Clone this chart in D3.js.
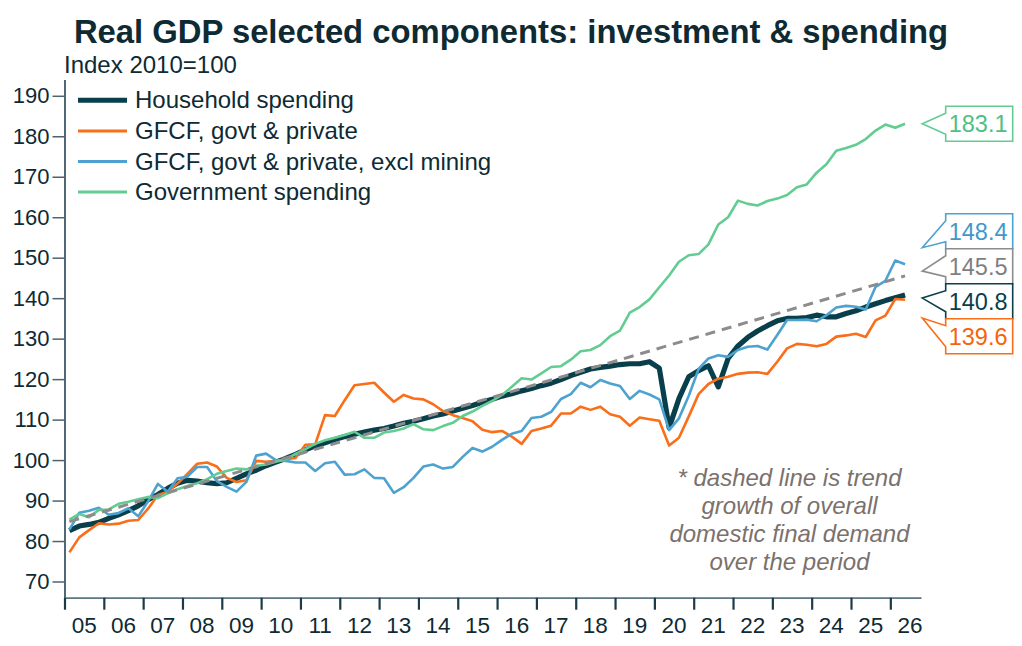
<!DOCTYPE html>
<html>
<head>
<meta charset="utf-8">
<script src="https://cdn.jsdelivr.net/npm/d3@7"></script>
<style>
  body { margin: 0; background: #fff; }
  text { font-family: "Liberation Sans", Arial, sans-serif; }
</style>
</head>
<body>
<div id="chart"></div>
<script>
// Quarterly index values, 2005 Q1 onwards (86 quarters)
const household = [82.6, 83.7, 84.1, 84.6, 85.6, 86.5, 87.5, 88.7, 90.2, 91.5, 93.0, 94.3, 95.0, 94.8, 94.4, 94.2,
  94.4, 95.5, 96.6, 97.5, 98.6, 99.5, 100.4, 101.4, 102.5, 103.5, 104.3, 105.1, 105.8, 106.4, 106.9, 107.4,
  107.8, 108.4, 109.1, 109.6, 110.2, 110.9, 111.4, 112.1, 112.8, 113.5, 114.3, 115.0, 115.8, 116.4, 117.1, 117.7,
  118.4, 119.0, 119.9, 120.9, 121.7, 122.5, 122.9, 123.2, 123.6, 123.8, 123.8, 124.3, 122.7, 108.0, 115.2, 120.6,
  122.1, 123.3, 118.1, 125.1, 128.2, 130.3, 131.9, 133.2, 134.4, 135.0, 135.0, 135.2, 135.8, 135.4, 135.4, 136.2,
  136.9, 137.8, 138.6, 139.4, 140.1, 140.8];

const gfcf = [77.2, 80.9, 82.7, 84.4, 84.1, 84.3, 85.0, 85.2, 88.0, 91.4, 92.2, 94.2, 96.6, 99.1, 99.4, 98.4,
  95.6, 94.6, 95.0, 99.8, 99.6, 99.8, 100.2, 100.5, 103.8, 103.9, 111.1, 110.9, 114.8, 118.5, 118.8, 119.1,
  116.7, 114.4, 116.1, 115.2, 115.0, 113.8, 112.1, 111.1, 110.4, 109.6, 107.5, 106.9, 107.2, 105.8, 104.0, 107.2,
  107.8, 108.5, 111.5, 111.5, 113.2, 112.4, 113.2, 111.3, 110.7, 108.5, 110.5, 110.1, 109.7, 103.6, 105.5, 110.8,
  116.3, 118.8, 120.1, 120.6, 121.3, 121.6, 121.7, 121.3, 124.3, 127.6, 128.7, 128.5, 128.1, 128.7, 130.5, 130.8,
  131.2, 130.4, 134.5, 135.7, 139.8, 139.6];

const gfcfExMining = [82.8, 87.0, 87.5, 88.2, 86.5, 86.9, 88.1, 86.1, 89.8, 94.1, 92.2, 95.5, 95.9, 98.3, 98.3, 94.8,
  93.4, 92.2, 94.6, 101.1, 101.6, 100.0, 99.8, 99.4, 99.4, 97.3, 99.2, 99.6, 96.4, 96.5, 97.7, 95.6,
  95.5, 91.9, 93.3, 95.6, 98.4, 98.9, 97.9, 98.3, 100.8, 103.0, 102.1, 103.3, 105.0, 106.5, 107.2, 110.4,
  110.7, 111.9, 115.1, 116.3, 119.1, 118.0, 119.8, 118.9, 118.3, 115.1, 117.1, 116.2, 115.0, 107.4, 110.3, 115.9,
  122.5, 125.1, 125.9, 125.5, 127.2, 128.0, 128.2, 127.3, 130.9, 134.6, 134.6, 134.7, 134.3, 135.8, 137.7, 138.1,
  137.9, 137.2, 142.8, 144.3, 149.3, 148.4];

const government = [85.3, 86.7, 85.9, 87.7, 87.8, 89.2, 89.7, 90.3, 90.9, 90.6, 91.8, 92.8, 93.6, 94.3, 95.3, 96.6,
  97.3, 97.9, 97.7, 98.6, 98.9, 99.6, 100.2, 101.5, 102.7, 104.0, 104.9, 105.5, 106.2, 107.0, 105.5, 105.5,
  106.8, 107.2, 107.8, 108.9, 107.6, 107.4, 108.4, 109.2, 110.9, 112.0, 113.4, 114.6, 116.1, 118.1, 120.2, 119.9,
  121.4, 123.0, 123.2, 124.8, 126.9, 127.2, 128.4, 130.6, 132.0, 136.4, 137.8, 139.7, 142.7, 145.6, 149.0, 150.6,
  150.9, 153.3, 158.2, 160.0, 164.1, 163.3, 162.9, 164.0, 164.6, 165.5, 167.4, 168.1, 171.0, 173.1, 176.4, 177.1,
  177.9, 179.3, 181.4, 182.9, 182.1, 183.1];

// trend growth of domestic final demand: start and end of the dashed line
const trendQuarters = [0, 85];
const trendValues = [84.8, 145.5];

const startYear = 2005;
const yearLabels = ["05", "06", "07", "08", "09", "10", "11", "12", "13", "14", "15",
  "16", "17", "18", "19", "20", "21", "22", "23", "24", "25", "26"];
const yTicks = [70, 80, 90, 100, 110, 120, 130, 140, 150, 160, 170, 180, 190];

const series = [
  { name: "Household spending", values: household, color: "#083f4a", width: 5.2 },
  { name: "GFCF, govt & private", values: gfcf, color: "#fa6e19", width: 2.6 },
  { name: "GFCF, govt & private, excl mining", values: gfcfExMining, color: "#4da2d0", width: 2.6 },
  { name: "Government spending", values: government, color: "#62cc91", width: 2.6 }
];
const trendColor = "#8c8c8c";

const W = 1022, H = 646;
const svg = d3.select("#chart").append("svg")
  .attr("width", W)
  .attr("height", H);

// Scales
const x = d3.scaleLinear().domain([2005, 2026.78]).range([64.5, 921]);
const y = d3.scaleLinear().domain([66, 194]).range([597.7, 79.6]);
const qx = i => x(startYear + (i + 0.5) / 4);

// Title & subtitle
svg.append("text")
  .attr("x", 511).attr("y", 43)
  .attr("text-anchor", "middle")
  .style("font-size", "32.8px").style("font-weight", "bold")
  .attr("fill", "#0e2a33")
  .text("Real GDP selected components: investment & spending");

svg.append("text")
  .attr("x", 64).attr("y", 73)
  .style("font-size", "24px")
  .attr("fill", "#0e2a33")
  .text("Index 2010=100");

// y axis
const yAxis = svg.append("g")
  .attr("transform", "translate(64.5,0)")
  .call(d3.axisLeft(y).tickValues(yTicks).tickSize(12).tickPadding(3).tickSizeOuter(0));
yAxis.select(".domain").attr("stroke", "#3e5866").attr("stroke-width", 1.8);
yAxis.selectAll(".tick line").attr("stroke", "#50626b").attr("stroke-width", 1.5);
yAxis.selectAll(".tick text")
  .style("font-size", "22px")
  .attr("fill", "#0e2a33")
  .attr("font-family", "Liberation Sans, Arial, sans-serif");

// x axis: ticks at year starts, labels centred in each year
const yearTicks = d3.range(startYear, startYear + yearLabels.length);
const xAxis = svg.append("g")
  .attr("transform", "translate(0,597.7)")
  .call(d3.axisBottom(x).tickValues(yearTicks).tickSize(12).tickFormat("").tickSizeOuter(0));
xAxis.select(".domain").attr("stroke", "#5d7683").attr("stroke-width", 1.8);
xAxis.selectAll(".tick line").attr("stroke", "#1e3a44").attr("stroke-width", 2.2);

svg.append("g").selectAll("text")
  .data(yearLabels)
  .enter().append("text")
  .attr("x", (d, i) => x(startYear + i + 0.5))
  .attr("y", 633)
  .attr("text-anchor", "middle")
  .style("font-size", "22.5px")
  .attr("fill", "#0e2a33")
  .text(d => d);

// Lines
const line = d3.line()
  .x((d, i) => qx(i))
  .y(d => y(d));

svg.append("g").selectAll("path")
  .data(series)
  .enter().append("path")
  .attr("d", d => line(d.values))
  .attr("fill", "none")
  .attr("stroke", d => d.color)
  .attr("stroke-width", d => d.width)
  .attr("stroke-linejoin", "round");

// dashed trend
const trendLine = d3.line()
  .x(d => qx(d[0]))
  .y(d => y(d[1]));
svg.append("path")
  .attr("d", trendLine(trendQuarters.map((q, i) => [q, trendValues[i]])))
  .attr("fill", "none")
  .attr("stroke", trendColor)
  .attr("stroke-width", 3)
  .attr("stroke-dasharray", "10,7");

// Legend
const legend = svg.append("g");
series.forEach((s, i) => {
  const ly = 100.3 + i * 30.6;
  legend.append("line")
    .attr("x1", 78).attr("x2", 127)
    .attr("y1", ly).attr("y2", ly)
    .attr("stroke", s.color)
    .attr("stroke-width", i === 0 ? 5 : 3);
  legend.append("text")
    .attr("x", 135).attr("y", ly + 8)
    .style("font-size", "24px")
    .attr("fill", "#0e2a33")
    .text(s.name);
});

// Note
const note = ["* dashed line is trend", "growth of overall", "domestic final demand", "over the period"];
svg.append("g").selectAll("text")
  .data(note)
  .enter().append("text")
  .attr("x", 789.5)
  .attr("y", (d, i) => 485.5 + i * 28)
  .attr("text-anchor", "middle")
  .style("font-size", "24px")
  .style("font-style", "italic")
  .attr("fill", "#7b716c")
  .text(d => d);

// End-value callouts, pushed apart so they don't overlap
const last = a => a[a.length - 1];
const callouts = [
  { value: last(government), color: "#62cc91", text: "#4fbf82" },
  { value: last(gfcfExMining), color: "#4da2d0", text: "#3f98c9" },
  { value: last(trendValues), color: "#8c8c8c", text: "#7f7f7f" },
  { value: last(household), color: "#083f4a", text: "#083f4a" },
  { value: last(gfcf), color: "#fa6e19", text: "#f5640c" }
].sort((a, b) => b.value - a.value);

const boxH = 35, boxL = 945.7, boxR = 1012.7, tipX = 922.3;
// group overlapping boxes and centre each group on its mean position
let groups = callouts.map(c => ({ items: [c], ideal: y(c.value) }));
let moved = true;
while (moved) {
  moved = false;
  groups.forEach(g => {
    const mean = d3.mean(g.items, c => y(c.value));
    g.top = mean - g.items.length * boxH / 2;
  });
  for (let i = 0; i < groups.length - 1; i++) {
    const a = groups[i], b = groups[i + 1];
    if (a.top + a.items.length * boxH > b.top) {
      a.items = a.items.concat(b.items);
      groups.splice(i + 1, 1);
      moved = true;
      break;
    }
  }
}
groups.forEach(g => g.items.forEach((c, k) => { c.cy = g.top + boxH * (k + 0.5); }));

const cg = svg.append("g");
callouts.forEach(c => {
  const top = c.cy - boxH / 2, bot = c.cy + boxH / 2;
  const tipY = (y(c.value) + c.cy) / 2;
  const path = d3.path();
  path.moveTo(boxL, top);
  path.lineTo(boxR, top);
  path.lineTo(boxR, bot);
  path.lineTo(boxL, bot);
  path.lineTo(boxL, bot - 7);
  path.lineTo(tipX, tipY);
  path.lineTo(boxL, top + 7);
  path.closePath();
  cg.append("path")
    .attr("d", path.toString())
    .attr("fill", "#fff")
    .attr("stroke", c.color)
    .attr("stroke-width", 1.6);
  cg.append("text")
    .attr("x", 1007.5).attr("y", c.cy + 8.5)
    .attr("text-anchor", "end")
    .style("font-size", "23.5px")
    .attr("fill", c.text)
    .text(c.value.toFixed(1));
});
</script>
</body>
</html>
